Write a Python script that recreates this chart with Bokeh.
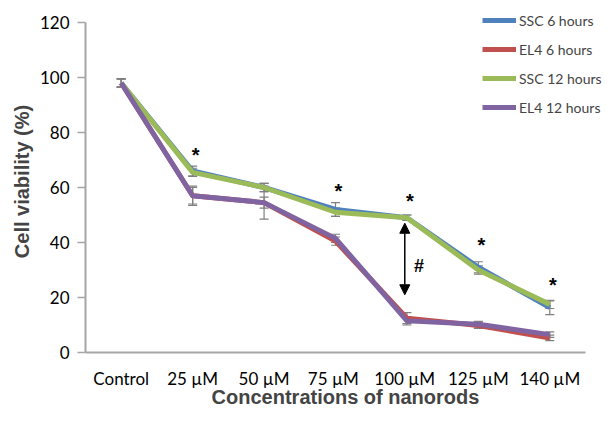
from bokeh.plotting import figure
from bokeh.models import (ColumnDataSource, Whisker, TeeHead, Arrow, NormalHead,
                          Legend, LegendItem, Range1d, FixedTicker)
from bokeh.core.properties import value
from bokeh.embed import file_html
from bokeh.resources import INLINE

cats = ["Control", "25 µM", "50 µM", "75  µM", "100  µM", "125 µM", "140 µM"]

ssc6 = [98, 66, 60, 52, 49, 31, 16.3]
el4_6 = [98, 57, 54.5, 40.5, 12.5, 9.8, 5.3]
ssc12 = [98, 65.5, 60, 51, 49, 30, 17.5]
el4_12 = [98, 57, 54.5, 41.5, 11.5, 10.3, 6.5]

ssc6_err = [1.5, 1.8, 1.5, 2.5, 1, 2, 2.5]
el4_6_err = [1.5, 3.5, 6, 1.5, 2, 1, 1]
ssc12_err = [1.5, 1.5, 1.5, 1.5, 1, 1.5, 1.5]
el4_12_err = [1.5, 3, 2, 1.5, 1.5, 1, 1]

series_names = ["SSC 6 hours", "EL4 6 hours", "SSC 12 hours", "EL4 12 hours"]
colors = ["#4F81BD", "#C0504D", "#9BBB59", "#8064A2"]

y_ticks = [0, 20, 40, 60, 80, 100, 120]

star_cats = ["25 µM", "75  µM", "100  µM", "125 µM", "140 µM"]
star_y = [73.5, 60.7, 57.0, 41.0, 26.5]

hash_cat = "100  µM"
hash_y = 31.3
arrow_top = 48
arrow_bottom = 20

# categorical positions via index (centre of each band)
xpos = {c: i + 0.5 for i, c in enumerate(cats)}
xs = [xpos[c] for c in cats]
n = len(cats)

# frame extends beyond the axes so that the legend is not clipped
frame_w, frame_h = 520, 342
axis_w, axis_h = 500, 330
p = figure(x_range=Range1d(0, n * frame_w / axis_w),
           y_range=Range1d(0, y_ticks[-1] * frame_h / axis_h),
           frame_width=frame_w, frame_height=frame_h,
           min_border_left=85, min_border_right=2, min_border_top=10, min_border_bottom=72,
           output_backend="svg", toolbar_location=None)
p.outline_line_color = None
p.background_fill_color = None
p.border_fill_color = "white"
p.xgrid.visible = False
p.ygrid.visible = False

axis_col = "#A6A6A6"
p.xaxis.bounds = (0, n)
p.xaxis.ticker = FixedTicker(ticks=xs)
p.xaxis.major_label_overrides = {x: c for x, c in zip(xs, cats)}
p.xaxis.axis_line_color = axis_col
p.xaxis.axis_line_width = 2
p.xaxis.major_tick_line_color = None
p.xaxis.minor_tick_line_color = None
p.xaxis.major_label_text_font = "Lato"
p.xaxis.major_label_text_font_size = "17px"
p.xaxis.major_label_text_color = "black"
p.xaxis.major_label_standoff = 9
p.xaxis.axis_label = "Concentrations of nanorods"
p.xaxis.axis_label_text_font = "Liberation Sans"
p.xaxis.axis_label_text_font_style = "bold"
p.xaxis.axis_label_text_font_size = "20px"
p.xaxis.axis_label_standoff = -6

p.yaxis.bounds = (y_ticks[0], y_ticks[-1])
p.yaxis.ticker = FixedTicker(ticks=y_ticks)
p.yaxis.axis_line_color = axis_col
p.yaxis.axis_line_width = 2
p.yaxis.major_tick_line_color = axis_col
p.yaxis.major_tick_line_width = 1.5
p.yaxis.major_tick_out = 8
p.yaxis.major_tick_in = 0
p.yaxis.minor_tick_line_color = None
p.yaxis.major_label_text_font = "Lato"
p.yaxis.major_label_text_font_size = "17px"
p.yaxis.major_label_text_color = "black"
p.yaxis.major_label_standoff = 8
p.yaxis.axis_label = "Cell viability (%)"
p.yaxis.axis_label_text_font = "Liberation Sans"
p.yaxis.axis_label_text_font_style = "bold"
p.yaxis.axis_label_text_font_size = "20px"
p.yaxis.axis_label_standoff = 4

all_vals = [ssc6, el4_6, ssc12, el4_12]
all_errs = [ssc6_err, el4_6_err, ssc12_err, el4_12_err]

for vals, errs in zip(all_vals, all_errs):
    src = ColumnDataSource(dict(x=xs, lo=[v - e for v, e in zip(vals, errs)],
                                hi=[v + e for v, e in zip(vals, errs)]))
    w = Whisker(source=src, base="x", lower="lo", upper="hi", dimension="height",
                line_color="#7F7F7F", line_width=1.2,
                upper_head=TeeHead(size=9, line_color="#7F7F7F", line_width=1.2),
                lower_head=TeeHead(size=9, line_color="#7F7F7F", line_width=1.2))
    p.add_layout(w)

items = []
for name, vals, col in zip(series_names, all_vals, colors):
    r = p.line(xs, vals, line_color=col, line_width=5, line_join="round")
    items.append(LegendItem(label=name, renderers=[r]))

legend = Legend(items=items, location=(397, 235), orientation="vertical",
                label_text_font="Lato", label_text_font_size="14px",
                glyph_width=34, glyph_height=20, label_height=20, label_standoff=3,
                spacing=9, padding=2, margin=0,
                border_line_color=None, background_fill_alpha=0)
p.add_layout(legend, "center")

p.text(x=[xpos[c] for c in star_cats], y=star_y, text=["*"] * len(star_cats),
       text_font=value("Liberation Sans"), text_font_style="bold",
       text_font_size="20px", text_align="center", text_baseline="middle",
       x_offset=3, y_offset=5)
p.text(x=[xpos[hash_cat]], y=[hash_y], text=["#"], text_font=value("Liberation Sans"),
       text_font_style="bold", text_font_size="18px", text_align="center",
       text_baseline="middle", x_offset=12)

ax = xpos[hash_cat] - 0.03
p.add_layout(Arrow(x_start=ax, y_start=arrow_bottom + 1, x_end=ax, y_end=arrow_top - 1,
                   line_color="black", line_width=1.5,
                   start=NormalHead(size=10, fill_color="black", line_color="black"),
                   end=NormalHead(size=10, fill_color="black", line_color="black")))

open("out.html", "w").write(file_html(p, INLINE))
